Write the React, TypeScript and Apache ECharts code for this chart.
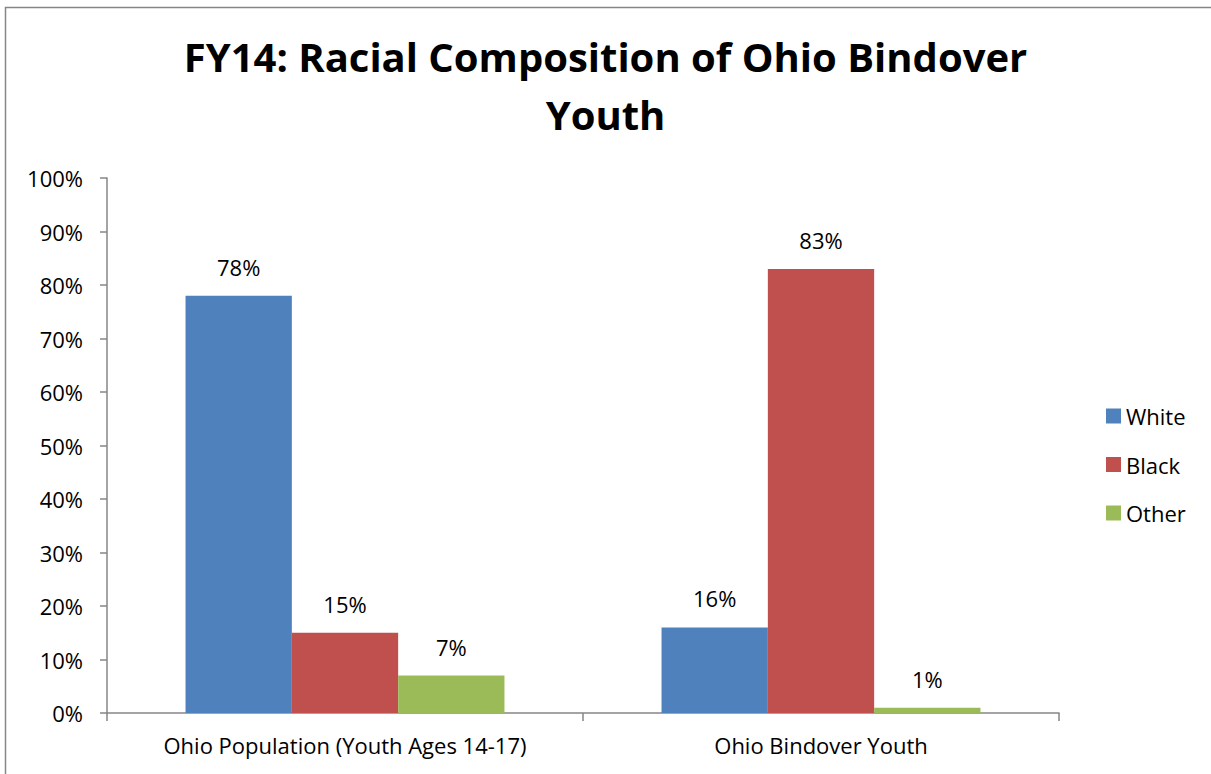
import React, { useEffect, useRef } from "react";
import * as echarts from "echarts";

const categories = ["Ohio Population (Youth Ages 14-17)", "Ohio Bindover Youth"];
const seriesNames = ["White", "Black", "Other"];
const whiteValues = [78, 16];
const blackValues = [15, 83];
const otherValues = [7, 1];
const colors = ["#4F81BD", "#C0504D", "#9BBB59"];
const titleText = "FY14: Racial Composition of Ohio Bindover\nYouth";

const FONT = "'Open Sans', 'Noto Sans', sans-serif";

export default function App() {
  const ref = useRef<HTMLDivElement>(null);
  useEffect(() => {
    if (!ref.current) return;
    const chart = echarts.init(ref.current, null, { renderer: "svg" });
    const values = [whiteValues, blackValues, otherValues];
    chart.setOption({
      animation: false,
      backgroundColor: "#ffffff",
      textStyle: { fontFamily: FONT },
      title: {
        text: titleText,
        left: "center",
        top: 22,
        textStyle: {
          fontFamily: FONT,
          fontSize: 40,
          fontWeight: "bold",
          color: "#000",
          lineHeight: 58,
        },
      },
      graphic: [
        {
          type: "rect",
          shape: { x: 5.5, y: 7.5, width: 1230, height: 800 },
          style: { fill: "none", stroke: "#868686", lineWidth: 1.5 },
          silent: true,
        },
      ],
      legend: {
        orient: "vertical",
        left: 1101,
        top: 400,
        itemWidth: 15,
        itemHeight: 15,
        itemGap: 26.5,
        icon: "rect",
        textStyle: { fontFamily: FONT, fontSize: 22, lineHeight: 22, color: "#000" },
        data: seriesNames,
      },
      grid: { left: 107, right: 152, top: 178, bottom: 61, containLabel: false },
      xAxis: {
        type: "category",
        data: categories,
        axisLine: { lineStyle: { color: "#868686", width: 1.5 } },
        axisTick: { show: true, length: 8, lineStyle: { color: "#868686", width: 1.5 } },
        axisLabel: { interval: 0, fontFamily: FONT, fontSize: 22, color: "#000", margin: 21 },
      },
      yAxis: {
        type: "value",
        min: 0,
        max: 100,
        interval: 10,
        axisLine: { show: true, lineStyle: { color: "#868686", width: 1.5 } },
        axisTick: { show: true, length: 7, lineStyle: { color: "#868686", width: 1.5 } },
        splitLine: { show: false },
        axisLabel: {
          fontFamily: FONT,
          fontSize: 22,
          color: "#000",
          margin: 24,
          formatter: (v: number) => v + "%",
        },
      },
      series: seriesNames.map((name, i) => ({
        name,
        type: "bar",
        data: values[i],
        barGap: "0%",
        barCategoryGap: "33%",
        itemStyle: { color: colors[i] },
        label: {
          show: true,
          position: "top",
          distance: 18,
          fontFamily: FONT,
          fontSize: 22,
          color: "#000",
          formatter: (p: any) => p.value + "%",
        },
      })),
    });
    return () => chart.dispose();
  }, []);
  return (
    <div
      ref={ref}
      style={{ position: "absolute", left: 0, top: 0, width: 1211, height: 774 }}
    />
  );
}
